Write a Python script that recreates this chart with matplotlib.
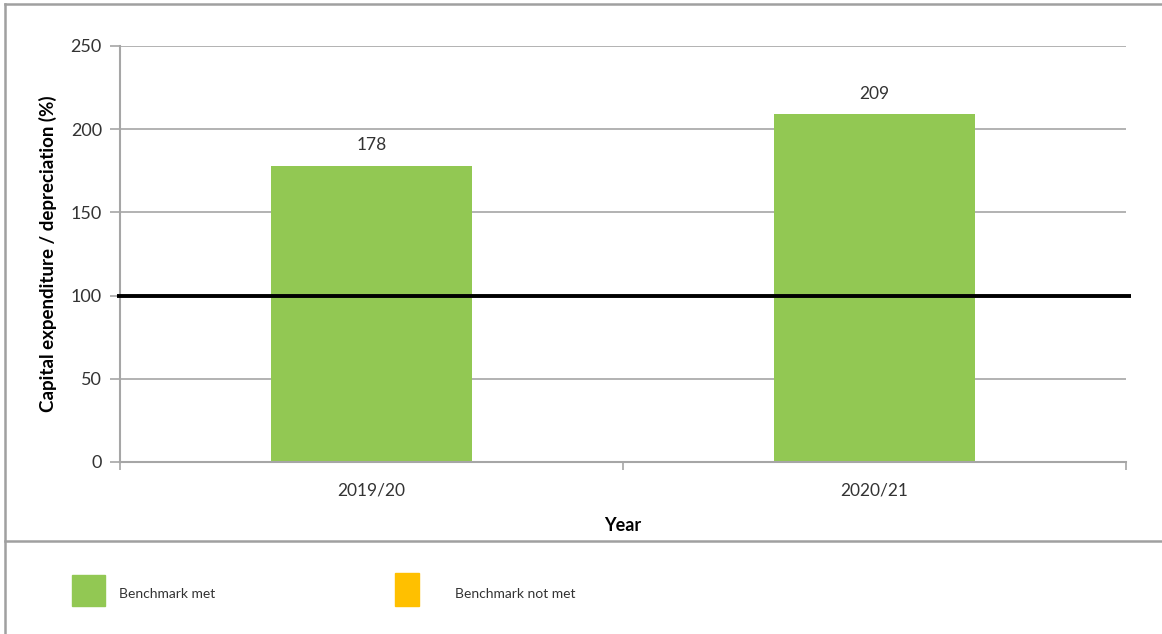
import matplotlib
matplotlib.use('Agg')
import matplotlib.pyplot as plt
from matplotlib.patches import Rectangle
from matplotlib.lines import Line2D

# Datos
years = ['2019/20', '2020/21']
values = [178, 209]
benchmark = 100
legend_labels = ['Benchmark met', 'Benchmark not met']

GREEN = '#92C853'
ORANGE = '#FFC000'
GRID = '#A6A6A6'

plt.rcParams['font.family'] = ['Lato', 'DejaVu Sans']

fig = plt.figure(figsize=(11.62, 6.34), dpi=100)
ax = fig.add_axes([120 / 1162, 1 - 462 / 634, 1006 / 1162, 416 / 634])

x = range(len(years))
ax.bar(x, values, width=0.4, color=GREEN, zorder=2)
for xi, v in zip(x, values):
    ax.annotate(str(v), (xi, v), xytext=(0, 9), textcoords='offset points',
                ha='center', va='bottom', fontsize=12.5, color='#333333')

# linea de referencia
ax.plot([-0.506, 1.51], [benchmark, benchmark], color='black', lw=2.8,
        zorder=3, clip_on=False, solid_capstyle='butt')

ax.set_xlim(-0.5, 1.5)
ax.set_ylim(0, 250)
ax.set_yticks(range(0, 251, 50))
ax.yaxis.grid(True, color=GRID, lw=1.2, zorder=0)
ax.set_axisbelow(True)

# ticks del eje x en los limites de categoria
ax.set_xticks([-0.5, 0.5, 1.5])
ax.set_xticklabels([])
ax.set_xticks(list(x), minor=True)
ax.set_xticklabels(years, minor=True)
ax.tick_params(axis='x', which='major', length=6, color=GRID, width=1.2)
ax.tick_params(axis='x', which='minor', length=0, pad=15, labelsize=12.5, labelcolor='#333333')
ax.tick_params(axis='y', length=7, color=GRID, width=1.2, labelsize=13, labelcolor='#333333', pad=6)

for s in ['top', 'right']:
    ax.spines[s].set_visible(False)
for s in ['left', 'bottom']:
    ax.spines[s].set_color(GRID)
    ax.spines[s].set_linewidth(1.5)

ax.set_ylabel('Capital expenditure / depreciation (%)', fontsize=13.5, fontweight='bold', labelpad=10)
ax.set_xlabel('Year', fontsize=13, fontweight='bold', labelpad=13)

# marco exterior
BOX = '#A0A0A0'
fig.add_artist(Line2D([5 / 1162, 1], [1 - 4 / 634] * 2, color=BOX, lw=1.8))
fig.add_artist(Line2D([5 / 1162] * 2, [0, 1 - 4 / 634], color=BOX, lw=1.8))
fig.add_artist(Line2D([5 / 1162, 1], [1 - 541 / 634] * 2, color=BOX, lw=1.8))

# leyenda manual
def legend_item(x0, y0, w, h, color, tx, label):
    fig.add_artist(Rectangle((x0 / 1162, 1 - (y0 + h) / 634), w / 1162, h / 634,
                             color=color, transform=fig.transFigure))
    fig.text(tx / 1162, 1 - 594 / 634, label, fontsize=10, va='center', color='#333333')

legend_item(72, 575, 33, 31, GREEN, 119, legend_labels[0])
legend_item(395, 573, 24, 33, ORANGE, 455, legend_labels[1])

fig.savefig('out.png', dpi=100)
